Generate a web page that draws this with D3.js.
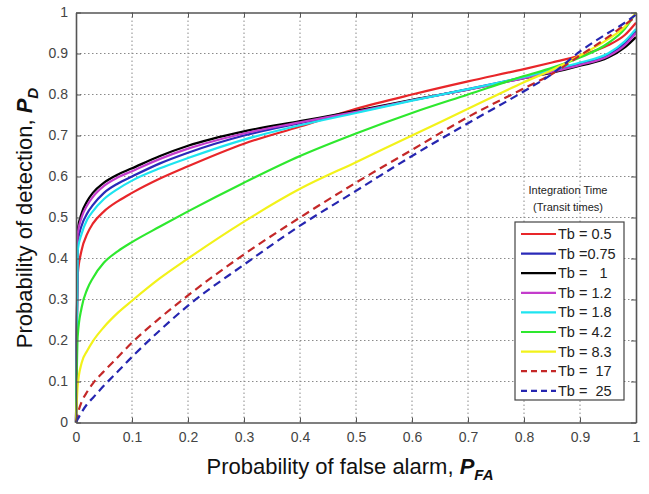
<!DOCTYPE html>
<html>
<head>
<meta charset="utf-8">
<script src="https://cdn.jsdelivr.net/npm/d3@7"></script>
<style>
  body { margin: 0; background: #fff; }
  text { font-family: "Liberation Sans", Arial, sans-serif; }
</style>
</head>
<body>
<div id="chart"></div>
<script>
// common false-alarm grid (x)
const pfa = [0, 0.003, 0.01, 0.02, 0.03, 0.05, 0.075, 0.1, 0.15, 0.2, 0.3, 0.4, 0.5, 0.6, 0.7, 0.8, 0.85, 0.9, 0.95, 0.98, 1];

// detection probability for each integration time
const pd05  = [0, 0.36, 0.42, 0.46, 0.485, 0.515, 0.54, 0.56, 0.595, 0.625, 0.68, 0.722, 0.765, 0.80, 0.832, 0.862, 0.878, 0.895, 0.92, 0.945, 0.975];
const pd075 = [0, 0.44, 0.48, 0.51, 0.53, 0.56, 0.583, 0.60, 0.632, 0.658, 0.70, 0.73, 0.757, 0.786, 0.813, 0.842, 0.857, 0.875, 0.897, 0.925, 0.955];
const pd1   = [0, 0.47, 0.51, 0.54, 0.56, 0.585, 0.605, 0.62, 0.65, 0.675, 0.71, 0.735, 0.76, 0.787, 0.812, 0.84, 0.853, 0.87, 0.89, 0.915, 0.94];
const pd12  = [0, 0.46, 0.50, 0.53, 0.55, 0.577, 0.598, 0.613, 0.643, 0.668, 0.705, 0.732, 0.758, 0.786, 0.812, 0.84, 0.855, 0.872, 0.893, 0.92, 0.95];
const pd18  = [0, 0.42, 0.46, 0.495, 0.515, 0.545, 0.57, 0.59, 0.62, 0.645, 0.69, 0.725, 0.755, 0.785, 0.813, 0.843, 0.86, 0.878, 0.90, 0.93, 0.96];
const pd42  = [0, 0.21, 0.28, 0.325, 0.352, 0.39, 0.418, 0.44, 0.478, 0.515, 0.585, 0.65, 0.705, 0.755, 0.80, 0.845, 0.865, 0.89, 0.925, 0.96, 1.0];
const pd83  = [0, 0.09, 0.145, 0.175, 0.198, 0.233, 0.268, 0.297, 0.352, 0.40, 0.49, 0.57, 0.635, 0.70, 0.765, 0.83, 0.86, 0.895, 0.935, 0.965, 1.0];
const pd17  = [0, 0.02, 0.05, 0.075, 0.095, 0.125, 0.16, 0.195, 0.255, 0.31, 0.41, 0.50, 0.585, 0.665, 0.745, 0.815, 0.85, 0.895, 0.94, 0.97, 0.99];
const pd25  = [0, 0.008, 0.025, 0.045, 0.06, 0.09, 0.125, 0.16, 0.225, 0.285, 0.385, 0.48, 0.565, 0.65, 0.73, 0.808, 0.85, 0.905, 0.95, 0.975, 0.995];

const labels = ["Tb = 0.5", "Tb =0.75", "Tb =   1", "Tb = 1.2", "Tb = 1.8", "Tb = 4.2", "Tb = 8.3", "Tb =  17", "Tb =  25"];
const colors = ["#e8262a", "#2a2ab8", "#000000", "#c43ccc", "#1ee4f0", "#2ee82e", "#f2f21a", "#c42828", "#2626b0"];
const dashed = [false, false, false, false, false, false, false, true, true];
const seriesValues = [pd05, pd075, pd1, pd12, pd18, pd42, pd83, pd17, pd25];

const ticks = [0, 0.1, 0.2, 0.3, 0.4, 0.5, 0.6, 0.7, 0.8, 0.9, 1];
const tickLabels = ["0", "0.1", "0.2", "0.3", "0.4", "0.5", "0.6", "0.7", "0.8", "0.9", "1"];

const W = 649, H = 494;
const margin = { top: 12.5, right: 13, bottom: 71.5, left: 76 };
const width = W - margin.left - margin.right;
const height = H - margin.top - margin.bottom;

const svg = d3.select("#chart").append("svg")
    .attr("width", W)
    .attr("height", H);

const g = svg.append("g")
    .attr("transform", `translate(${margin.left},${margin.top})`);

const x = d3.scaleLinear().domain([0, 1]).range([0, width]);
const y = d3.scaleLinear().domain([0, 1]).range([height, 0]);

// grid
g.append("g").selectAll("line").data(ticks.slice(1, -1)).join("line")
    .attr("x1", d => x(d)).attr("x2", d => x(d))
    .attr("y1", 0).attr("y2", height)
    .attr("stroke", "#8a8a8a").attr("stroke-width", 1)
    .attr("stroke-dasharray", "1.5,2.5");
g.append("g").selectAll("line").data(ticks.slice(1, -1)).join("line")
    .attr("y1", d => y(d)).attr("y2", d => y(d))
    .attr("x1", 0).attr("x2", width)
    .attr("stroke", "#8a8a8a").attr("stroke-width", 1)
    .attr("stroke-dasharray", "1.5,2.5");

// curves
const line = d3.line()
    .x(d => x(d[0]))
    .y(d => y(d[1]))
    .curve(d3.curveMonotoneX);

seriesValues.forEach((vals, i) => {
    g.append("path")
        .datum(pfa.map((p, j) => [p, vals[j]]))
        .attr("fill", "none")
        .attr("stroke", colors[i])
        .attr("stroke-width", 2.2)
        .attr("stroke-dasharray", dashed[i] ? "8,5" : null)
        .attr("d", line);
});

// axes (MATLAB style box, inward ticks)
const fmt = (d, i) => tickLabels[i];
const xAxis = g.append("g")
    .attr("transform", `translate(0,${height})`)
    .call(d3.axisBottom(x).tickValues(ticks).tickFormat(fmt).tickSizeInner(-5).tickSizeOuter(0).tickPadding(10));
const yAxis = g.append("g")
    .call(d3.axisLeft(y).tickValues(ticks).tickFormat(fmt).tickSizeInner(-5).tickSizeOuter(0).tickPadding(8));
const xTop = g.append("g")
    .call(d3.axisTop(x).tickValues(ticks).tickFormat("").tickSizeInner(-5).tickSizeOuter(0));
const yRight = g.append("g")
    .attr("transform", `translate(${width},0)`)
    .call(d3.axisRight(y).tickValues(ticks).tickFormat("").tickSizeInner(-5).tickSizeOuter(0));

[xAxis, yAxis, xTop, yRight].forEach(a => {
    a.select(".domain").attr("stroke", "#555").attr("stroke-width", 1.6);
    a.selectAll(".tick line").attr("stroke", "#555");
    a.selectAll("text").attr("font-size", 14).attr("fill", "#444")
        .style("font-family", "'Liberation Sans', Arial, sans-serif");
});

// axis titles
const xt = svg.append("text")
    .attr("x", 350).attr("y", 474)
    .attr("text-anchor", "middle")
    .attr("font-size", 22).attr("fill", "#111");
xt.append("tspan").text("Probability of false alarm,  ");
xt.append("tspan").attr("font-style", "italic").attr("font-weight", "bold").text("P");
xt.append("tspan").attr("font-style", "italic").attr("font-weight", "bold")
    .attr("font-size", 15).attr("dy", 6).text("FA");

const yt = svg.append("text")
    .attr("transform", "translate(32,218) rotate(-90)")
    .attr("text-anchor", "middle")
    .attr("font-size", 22).attr("fill", "#111");
yt.append("tspan").text("Probability of detection,  ");
yt.append("tspan").attr("font-style", "italic").attr("font-weight", "bold").text("P");
yt.append("tspan").attr("font-style", "italic").attr("font-weight", "bold")
    .attr("font-size", 15).attr("dy", 6).text("D");

// legend
const lg = svg.append("g");
lg.append("text").attr("x", 568).attr("y", 194).attr("text-anchor", "middle")
    .attr("font-size", 11).attr("fill", "#222").text("Integration Time");
lg.append("text").attr("x", 568).attr("y", 211).attr("text-anchor", "middle")
    .attr("font-size", 11).attr("fill", "#222").text("(Transit times)");
lg.append("rect")
    .attr("x", 515).attr("y", 222).attr("width", 109).attr("height", 178)
    .attr("fill", "#fff").attr("stroke", "#444").attr("stroke-width", 1.2);

labels.forEach((lab, i) => {
    const ly = 234 + i * 19.6;
    lg.append("line")
        .attr("x1", 521).attr("x2", 556).attr("y1", ly).attr("y2", ly)
        .attr("stroke", colors[i]).attr("stroke-width", 2.2)
        .attr("stroke-dasharray", dashed[i] ? "6,4" : null);
    lg.append("text")
        .attr("x", 558).attr("y", ly + 5)
        .attr("font-size", 14.5).attr("fill", "#222")
        .attr("xml:space", "preserve").style("white-space", "pre")
        .text(lab);
});
</script>
</body>
</html>
